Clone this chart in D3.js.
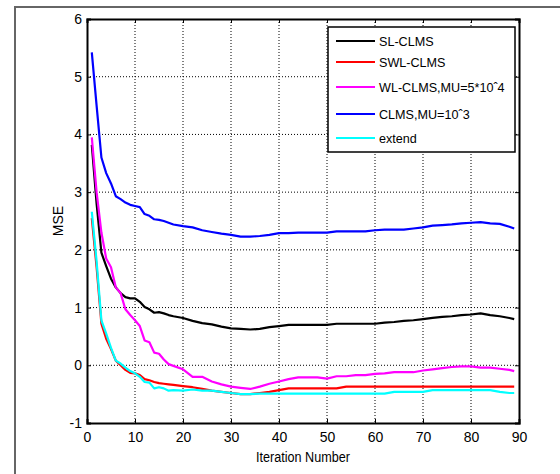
<!DOCTYPE html>
<html>
<head>
<meta charset="utf-8">
<script src="https://cdn.jsdelivr.net/npm/d3@7"></script>
<style>
  body { margin: 0; background: #fff; }
  svg { display: block; font-family: "Liberation Sans", Arial, sans-serif; }
</style>
</head>
<body>
<div id="chart"></div>
<script>
// iteration numbers (shared x values for every series)
var iterations = [1,2,3,4,5,6,7,8,9,10,11,12,13,14,15,16,17,18,20,22,24,26,28,30,32,34,36,38,40,42,44,46,48,50,52,54,56,58,60,62,64,66,68,70,72,74,76,78,80,82,84,86,88,89];

// MSE values
var slClms = [3.82,2.8,1.95,1.72,1.5,1.35,1.25,1.18,1.16,1.16,1.1,1.01,0.97,0.91,0.92,0.9,0.87,0.85,0.82,0.77,0.73,0.71,0.67,0.64,0.63,0.62,0.63,0.66,0.68,0.7,0.7,0.7,0.7,0.7,0.72,0.72,0.72,0.72,0.72,0.74,0.75,0.77,0.78,0.8,0.82,0.84,0.85,0.87,0.88,0.9,0.87,0.85,0.82,0.8];
var swlClms = [2.55,1.7,0.72,0.46,0.28,0.08,0.0,-0.08,-0.13,-0.14,-0.17,-0.24,-0.26,-0.29,-0.31,-0.32,-0.33,-0.34,-0.36,-0.38,-0.41,-0.44,-0.46,-0.48,-0.5,-0.5,-0.48,-0.46,-0.43,-0.4,-0.4,-0.4,-0.4,-0.4,-0.4,-0.37,-0.37,-0.37,-0.37,-0.37,-0.37,-0.37,-0.37,-0.37,-0.37,-0.37,-0.37,-0.37,-0.37,-0.37,-0.37,-0.37,-0.37,-0.37];
var wlClms = [3.95,3.0,2.3,1.85,1.7,1.35,1.25,0.97,0.87,0.78,0.68,0.43,0.4,0.22,0.2,0.1,0.02,-0.01,-0.07,-0.2,-0.2,-0.28,-0.33,-0.37,-0.39,-0.41,-0.37,-0.32,-0.28,-0.24,-0.21,-0.21,-0.21,-0.23,-0.19,-0.19,-0.17,-0.17,-0.15,-0.14,-0.12,-0.12,-0.12,-0.09,-0.07,-0.05,-0.03,-0.02,-0.02,-0.04,-0.04,-0.06,-0.08,-0.1];
var clms = [5.42,4.5,3.6,3.33,3.15,2.93,2.88,2.82,2.78,2.76,2.74,2.62,2.59,2.53,2.52,2.5,2.47,2.44,2.41,2.39,2.34,2.31,2.28,2.26,2.23,2.23,2.24,2.26,2.29,2.29,2.3,2.3,2.3,2.3,2.32,2.32,2.32,2.32,2.34,2.35,2.35,2.35,2.37,2.39,2.42,2.43,2.44,2.46,2.47,2.48,2.46,2.45,2.4,2.37];
var extend = [2.66,1.8,0.78,0.55,0.3,0.08,0.03,-0.04,-0.1,-0.14,-0.2,-0.29,-0.3,-0.4,-0.38,-0.4,-0.44,-0.43,-0.44,-0.42,-0.44,-0.44,-0.46,-0.48,-0.5,-0.5,-0.49,-0.49,-0.49,-0.49,-0.49,-0.49,-0.49,-0.49,-0.49,-0.49,-0.49,-0.49,-0.49,-0.49,-0.46,-0.46,-0.46,-0.46,-0.43,-0.43,-0.43,-0.43,-0.43,-0.43,-0.43,-0.46,-0.48,-0.48];

var seriesNames = ["SL-CLMS", "SWL-CLMS", "WL-CLMS,MU=5*10ˆ4", "CLMS,MU=10ˆ3", "extend"];
var seriesValues = [slClms, swlClms, wlClms, clms, extend];
var seriesColors = ["#000000", "#ff0000", "#ff00ff", "#0000ff", "#00ffff"];

var xTicks = [0,10,20,30,40,50,60,70,80,90];
var yTicks = [-1,0,1,2,3,4,5,6];

var width = 560, height = 474;
var margin = {top: 19, right: 41, bottom: 51, left: 87};
var innerWidth = width - margin.left - margin.right,
    innerHeight = height - margin.top - margin.bottom;

var svg = d3.select("#chart").append("svg")
  .attr("width", width)
  .attr("height", height);

// outer figure frame (only its left and top edges are in view)
svg.append("path")
  .attr("d", "M15," + height + "V7H" + width)
  .attr("fill", "none")
  .attr("stroke", "#666")
  .attr("stroke-width", 2);

var g = svg.append("g")
  .attr("transform", "translate(" + margin.left + "," + margin.top + ")");

var xScale = d3.scaleLinear().domain([0, 90]).range([0, innerWidth]);
var yScale = d3.scaleLinear().domain([-1, 6]).range([innerHeight, 0]);

// dotted grid
g.append("g")
  .selectAll("line")
  .data(xTicks.slice(1, -1))
  .enter().append("line")
    .attr("x1", d => xScale(d)).attr("x2", d => xScale(d))
    .attr("y1", 0).attr("y2", innerHeight)
    .attr("stroke", "#000").attr("stroke-width", 1)
    .attr("stroke-dasharray", "1,2");
g.append("g")
  .selectAll("line")
  .data(yTicks.slice(1, -1))
  .enter().append("line")
    .attr("x1", 0).attr("x2", innerWidth)
    .attr("y1", d => yScale(d)).attr("y2", d => yScale(d))
    .attr("stroke", "#000").attr("stroke-width", 1)
    .attr("stroke-dasharray", "1,2");

// axes, ticks pointing inwards; plain hyphen for negatives like the original
var plain = d => String(d);
var xAxis = g.append("g")
  .attr("transform", "translate(0," + innerHeight + ")")
  .call(d3.axisBottom(xScale).tickValues(xTicks).tickFormat(plain).tickSize(-4).tickPadding(9));
var yAxis = g.append("g")
  .call(d3.axisLeft(yScale).tickValues(yTicks).tickFormat(plain).tickSize(-4).tickPadding(5));
var topAxis = g.append("g")
  .call(d3.axisTop(xScale).tickValues(xTicks).tickSize(-4).tickFormat(""));
var rightAxis = g.append("g")
  .attr("transform", "translate(" + innerWidth + ",0)")
  .call(d3.axisRight(yScale).tickValues(yTicks).tickSize(-4).tickFormat(""));

[xAxis, yAxis, topAxis, rightAxis].forEach(function(a) {
  a.select(".domain").attr("stroke", "#000").attr("stroke-width", 2);
  a.selectAll(".tick line").attr("stroke", "#000");
  a.selectAll(".tick text")
    .attr("fill", "#000")
    .style("font-size", "14px")
    .style("font-family", "Liberation Sans, Arial, sans-serif");
});

// series lines
var line = d3.line()
  .x((d, i) => xScale(iterations[i]))
  .y(d => yScale(d));

// draw order: blue, black, magenta, red, cyan
[3, 0, 2, 1, 4].forEach(function(k) {
  g.append("path")
    .datum(seriesValues[k])
    .attr("fill", "none")
    .attr("stroke", seriesColors[k])
    .attr("stroke-width", 2.2)
    .attr("stroke-linejoin", "round")
    .attr("d", line);
});

// axis labels
g.append("text")
  .attr("x", innerWidth / 2)
  .attr("y", innerHeight + 39)
  .attr("text-anchor", "middle")
  .attr("textLength", 94)
  .attr("lengthAdjust", "spacingAndGlyphs")
  .style("font-size", "14px")
  .text("Iteration Number");

g.append("text")
  .attr("transform", "rotate(-90)")
  .attr("x", -innerHeight / 2)
  .attr("y", -24)
  .attr("text-anchor", "middle")
  .style("font-size", "14px")
  .text("MSE");

// legend
var legend = svg.append("g").attr("transform", "translate(328,27)");
legend.append("rect")
  .attr("width", 187).attr("height", 125)
  .attr("fill", "#fff")
  .attr("stroke", "#000")
  .attr("stroke-width", 1.5);

var legendY = [14, 35, 60, 87, 111];
seriesNames.forEach(function(name, i) {
  legend.append("line")
    .attr("x1", 8).attr("x2", 47)
    .attr("y1", legendY[i]).attr("y2", legendY[i])
    .attr("stroke", seriesColors[i])
    .attr("stroke-width", 2);
  legend.append("text")
    .attr("x", 51)
    .attr("y", legendY[i] + 5)
    .style("font-size", "12.6px")
    .text(name);
});
</script>
</body>
</html>
